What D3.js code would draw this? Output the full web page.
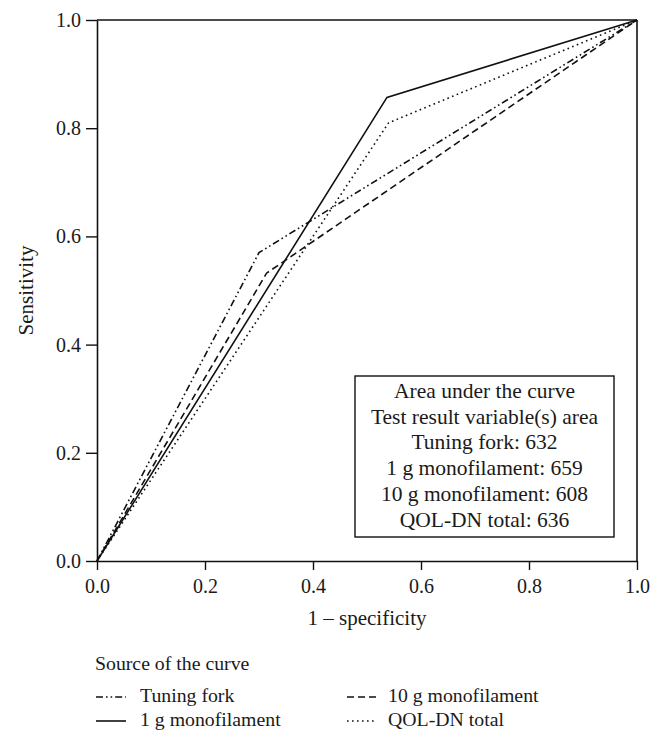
<!DOCTYPE html>
<html>
<head>
<meta charset="utf-8">
<script src="https://cdn.jsdelivr.net/npm/d3@7"></script>
<style>
  html, body { margin: 0; padding: 0; background: #fff; }
  svg text { font-family: "Liberation Serif", "DejaVu Serif", serif !important; fill: #1a1a1a; }
</style>
</head>
<body>
<svg id="chart" width="662" height="749"></svg>
<script>
// ---- Data ----
const seriesNames = ["Tuning fork", "1 g monofilament", "10 g monofilament", "QOL-DN total"];
const tuningFork = [[0, 0], [0.30, 0.57], [1, 1]];
const monofilament1g = [[0, 0], [0.537, 0.857], [1, 1]];
const monofilament10g = [[0, 0], [0.314, 0.532], [1, 1]];
const qolDnTotal = [[0, 0], [0.54, 0.81], [1, 1]];
const xTicks = [0, 0.2, 0.4, 0.6, 0.8, 1.0];
const yTicks = [0, 0.2, 0.4, 0.6, 0.8, 1.0];
const aucLines = ["Area under the curve", "Test result variable(s) area",
  "Tuning fork: 632", "1 g monofilament: 659", "10 g monofilament: 608", "QOL-DN total: 636"];

// ---- Styles ----
const dashes = {
  "Tuning fork": "7,3,1.6,3,1.6,3",
  "1 g monofilament": null,
  "10 g monofilament": "7,4",
  "QOL-DN total": "1.6,3.4"
};
const seriesData = {
  "Tuning fork": tuningFork,
  "1 g monofilament": monofilament1g,
  "10 g monofilament": monofilament10g,
  "QOL-DN total": qolDnTotal
};

const svg = d3.select("#chart");
const x = d3.scaleLinear().domain([0, 1]).range([97, 637]);
const y = d3.scaleLinear().domain([0, 1]).range([561, 20]);
const serif = "Liberation Serif";

// frame: top and right lines
svg.append("line").attr("x1", x(0)).attr("x2", x(1)).attr("y1", y(1)).attr("y2", y(1))
  .attr("stroke", "#111").attr("stroke-width", 1.6);
svg.append("line").attr("x1", x(1)).attr("x2", x(1)).attr("y1", y(0)).attr("y2", y(1))
  .attr("stroke", "#111").attr("stroke-width", 1.6);

// axes
const xAxis = svg.append("g").attr("transform", `translate(0,${y(0)})`)
  .call(d3.axisBottom(x).tickValues(xTicks).tickFormat(d3.format(".1f")).tickSize(9).tickPadding(9).tickSizeOuter(0));
const yAxis = svg.append("g").attr("transform", `translate(${x(0)},0)`)
  .call(d3.axisLeft(y).tickValues(yTicks).tickFormat(d3.format(".1f")).tickSize(11).tickPadding(5).tickSizeOuter(0));
[xAxis, yAxis].forEach(g => {
  g.attr("font-family", serif).attr("font-size", 20);
  g.select(".domain").attr("stroke", "#111").attr("stroke-width", 1.6);
  g.selectAll(".tick line").attr("stroke", "#111").attr("stroke-width", 1.4);
  g.selectAll(".tick text").style("font-size", "20px").style("font-family", serif).attr("fill", "#1a1a1a");
});

// curves
const line = d3.line().x(d => x(d[0])).y(d => y(d[1]));
seriesNames.forEach(name => {
  svg.append("path").datum(seriesData[name])
    .attr("d", line).attr("fill", "none").attr("stroke", "#111")
    .attr("stroke-width", 1.6)
    .attr("stroke-dasharray", dashes[name]);
});

// axis titles
svg.append("text").attr("x", 367).attr("y", 625).attr("text-anchor", "middle")
  .style("font-size", "21px").text("1 \u2013 specificity");
svg.append("text").attr("transform", `translate(33,${y(0.5)}) rotate(-90)`)
  .attr("text-anchor", "middle").style("font-size", "21px").text("Sensitivity");

// AUC box
svg.append("rect").attr("x", 355).attr("y", 376).attr("width", 259).attr("height", 161)
  .attr("fill", "#fff").attr("stroke", "#111").attr("stroke-width", 1.4);
svg.append("g").selectAll("text").data(aucLines).join("text")
  .attr("x", 484.5).attr("y", (d, i) => 398 + i * 25.7)
  .attr("text-anchor", "middle").style("font-size", "21.5px").text(d => d);

// legend
svg.append("text").attr("x", 95).attr("y", 670).style("font-size", "19.8px").text("Source of the curve");
const legendPos = [
  { name: "Tuning fork", lx: 96, ly: 697, tx: 140, ty: 702 },
  { name: "1 g monofilament", lx: 96, ly: 721, tx: 140, ty: 726 },
  { name: "10 g monofilament", lx: 347, ly: 697, tx: 388, ty: 702 },
  { name: "QOL-DN total", lx: 347, ly: 721, tx: 388, ty: 726 }
];
legendPos.forEach(p => {
  svg.append("line").attr("x1", p.lx).attr("x2", p.lx + 30).attr("y1", p.ly).attr("y2", p.ly)
    .attr("stroke", "#111").attr("stroke-width", 1.6).attr("stroke-dasharray", dashes[p.name]);
  svg.append("text").attr("x", p.tx).attr("y", p.ty).style("font-size", "19.8px").text(p.name);
});
</script>
</body>
</html>
